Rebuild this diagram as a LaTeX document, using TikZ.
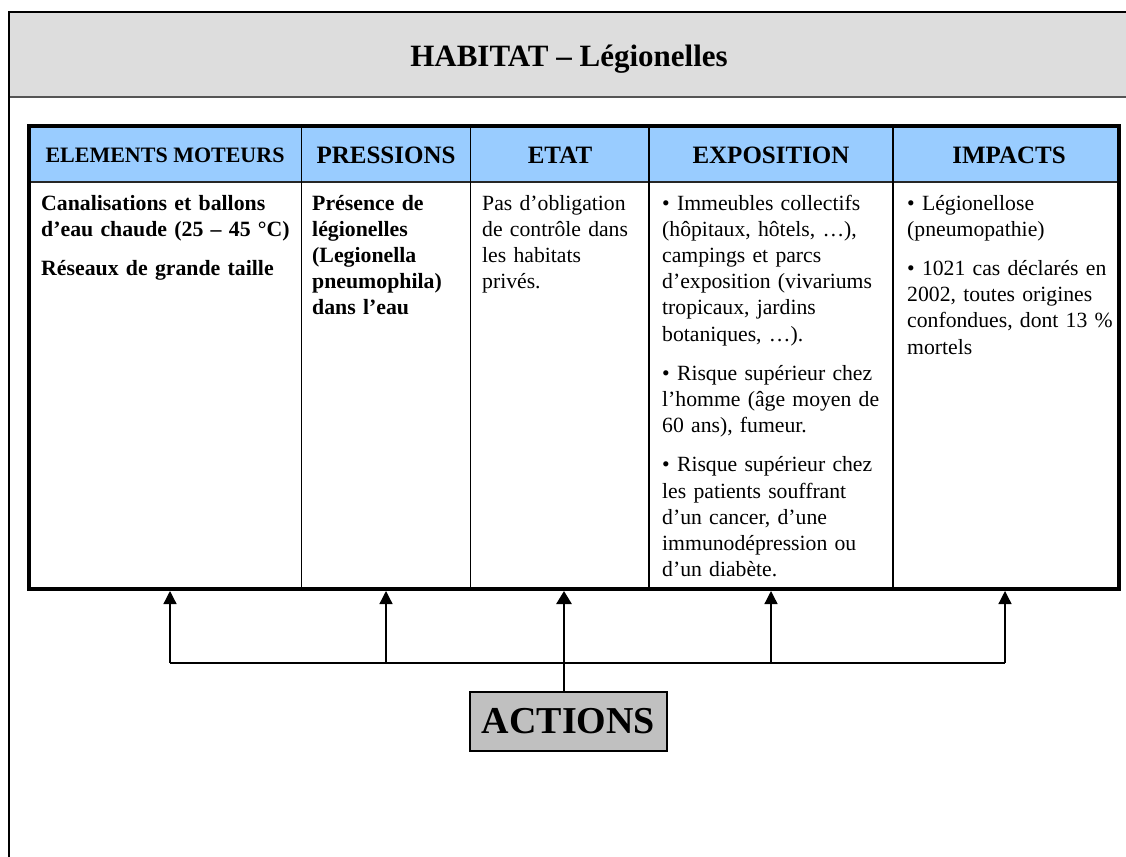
\documentclass[tikz,border=0pt]{standalone}
\usepackage{fontspec}
\setmainfont{Liberation Serif}
\usetikzlibrary{arrows.meta}
\definecolor{bandgray}{HTML}{DDDDDD}
\definecolor{headblue}{HTML}{99CCFF}
\definecolor{actgray}{HTML}{C0C0C0}
\definecolor{rulegray}{HTML}{555555}
\begin{document}
\begin{tikzpicture}[x=1pt,y=-1pt,
  cell/.style={anchor=base west, inner sep=0pt, text width=#1, align=left,
    font=\fontsize{21.7}{26.2}\selectfont},
  boldcell/.style={cell=#1, font=\bfseries\fontsize{21.8}{26.2}\selectfont},
  colhead/.style={anchor=base, inner sep=0pt, font=\bfseries\fontsize{25}{30}\selectfont},
  link/.style={line width=1.3pt},
  uptip/.style={-{Triangle[length=13pt,width=13pt]}},
  actbox/.style={draw, line width=2pt, fill=actgray, minimum width=197pt,
    minimum height=59pt, inner sep=0pt, font=\bfseries\fontsize{38}{42}\selectfont}
]
\clip (0,0) rectangle (1126,856);

% title band and page frame
\fill[bandgray] (9,12) rectangle (1140,97);
\draw[rulegray, line width=1.5pt] (9,97) -- (1140,97);
\draw[line width=2pt] (9,870) -- (9,12) -- (1140,12);
\node[anchor=base, inner sep=0pt, font=\bfseries\fontsize{31}{36}\selectfont]
  (title) at (569,67) {HABITAT – Légionelles};

% table background, header row and column rules
\fill[headblue] (29,126) rectangle (1119,182);
\draw[line width=1.5pt, black!85] (29,182) -- (1119,182);
\foreach \cx in {301.5,470.5,649,893}
  \draw[line width=1.3pt] (\cx,126) -- (\cx,589);
\draw[line width=4pt] (29,126) rectangle (1119,589);

% column headings
\node[colhead, font=\bfseries\fontsize{22}{26}\selectfont] (h1) at (165,162) {ELEMENTS MOTEURS};
\node[colhead] (h2) at (386,163) {PRESSIONS};
\node[colhead] (h3) at (560,163) {ETAT};
\node[colhead] (h4) at (771,163) {EXPOSITION};
\node[colhead] (h5) at (1009,163) {IMPACTS};

% column contents
\node[boldcell=255pt] (c1) at (41,210) {Canalisations et ballons\\
  d’eau chaude (25 – 45 °C)\\[13pt]
  Réseaux de grande taille};
\node[boldcell=160pt] (c2) at (312,210) {Présence de\\ légionelles\\
  (Legionella\\ pneumophila)\\ dans l’eau};
\node[cell=170pt] (c3) at (482,210) {Pas d’obligation\\ de contrôle dans\\
  les habitats\\ privés.};
\node[cell=235pt] (c4) at (662,210) {• Immeubles collectifs\\
  (hôpitaux, hôtels, …),\\ campings et parcs\\ d’exposition (vivariums\\
  tropicaux, jardins\\ botaniques, …).\\[13pt]
  • Risque supérieur chez\\ l’homme (âge moyen de\\ 60 ans), fumeur.\\[13pt]
  • Risque supérieur chez\\ les patients souffrant\\ d’un cancer, d’une\\
  immunodépression ou\\ d’un diabète.};
\node[cell=215pt] (c5) at (907,210) {• Légionellose\\ (pneumopathie)\\[13pt]
  • 1021 cas déclarés en\\ 2002, toutes origines\\ confondues, dont 13 \%\\ mortels};

% actions box and its links to the columns
\node[actbox] (actions) at (568.5,721.5) {ACTIONS};

\foreach \i/\ax in {1/170,2/386,3/564,4/771,5/1005} {
  \coordinate (t\i) at (\ax,591);
  \coordinate (bus\i) at (\ax,663);
}
\draw[link] (bus1) -- (bus5);
\foreach \i in {1,2,4,5}
  \draw[link, uptip] (bus\i) -- (t\i);
\draw[line width=2.7pt, -{Triangle[length=13pt,width=15pt]}] (actions.north -| t3) -- (t3);
\end{tikzpicture}
\end{document}
